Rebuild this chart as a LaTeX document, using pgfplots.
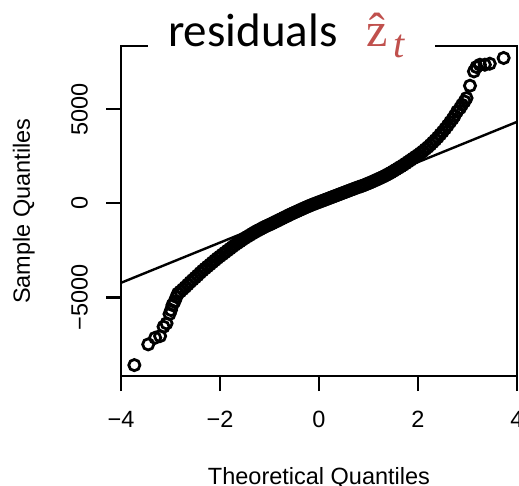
\documentclass[border=0pt]{standalone}
\usepackage{fontspec}
\setmainfont{Liberation Sans}
\newfontfamily\carlito{Carlito}
\newfontfamily\serif{Liberation Serif}
\usepackage{pgfplots}
\pgfplotsset{compat=1.18}
\definecolor{titlered}{HTML}{C0504D}

\pgfplotstableread{
x y
-3.73 -8601
-3.45 -7500
-3.31 -7149
-3.21 -7059
-3.14 -6564
-3.08 -6383
-3.02 -5888
-2.99 -5676
-2.96 -5410
-2.92 -5234
-2.88 -4980
-2.85 -4800
-2.80 -4690
-2.75 -4570
-2.70 -4450
-2.65 -4320
-2.60 -4190
-2.55 -4070
-2.50 -3950
-2.45 -3830
-2.40 -3700
-2.35 -3580
-2.30 -3470
-2.25 -3360
-2.20 -3250
-2.15 -3140
-2.10 -3030
-2.05 -2920
-2.00 -2820
-1.95 -2720
-1.90 -2620
-1.85 -2520
-1.80 -2420
-1.75 -2320
-1.70 -2220
-1.65 -2130
-1.60 -2040
-1.55 -1950
-1.50 -1860
-1.45 -1780
-1.40 -1700
-1.35 -1620
-1.30 -1540
-1.25 -1470
-1.20 -1400
-1.15 -1330
-1.10 -1260
-1.05 -1200
-1.00 -1140
-0.95 -1080
-0.90 -1010
-0.85 -950
-0.80 -880
-0.75 -820
-0.70 -750
-0.65 -690
-0.60 -620
-0.55 -560
-0.50 -500
-0.45 -440
-0.40 -380
-0.35 -320
-0.30 -260
-0.25 -200
-0.20 -150
-0.15 -90
-0.10 -40
-0.05 10
0.00 60
0.05 110
0.10 160
0.15 210
0.20 260
0.25 310
0.30 360
0.35 410
0.40 460
0.45 510
0.50 560
0.55 610
0.60 660
0.65 710
0.70 760
0.75 810
0.80 860
0.85 900
0.90 950
0.95 1000
1.00 1060
1.05 1110
1.10 1170
1.15 1230
1.20 1290
1.25 1350
1.30 1410
1.35 1480
1.40 1550
1.45 1620
1.50 1700
1.55 1780
1.60 1860
1.65 1940
1.70 2020
1.75 2110
1.80 2200
1.85 2290
1.90 2380
1.95 2470
2.00 2560
2.05 2660
2.10 2760
2.15 2870
2.20 2980
2.25 3100
2.30 3230
2.35 3360
2.40 3500
2.45 3650
2.50 3800
2.55 3960
2.60 4130
2.65 4310
2.70 4480
2.74 4644
2.79 4872
2.85 5053
2.89 5229
2.94 5404
2.98 5585
3.05 6240
3.13 7000
3.18 7234
3.25 7356
3.35 7356
3.45 7410
3.73 7713
}\residuals

\begin{document}
\begin{tikzpicture}
\begin{axis}[
  scale only axis,
  width=396pt, height=330pt,
  xmin=-4, xmax=4, ymin=-9180, ymax=8350,
  axis line style={line width=2.4pt},
  tick style={line width=2.4pt, black},
  major tick length=15pt,
  tick align=outside,
  xtick pos=left, ytick pos=left,
  xtick={-4,-2,0,2,4}, xticklabels={−4,−2,0,2,4},
  ytick={-5000,0,5000}, yticklabels={−5000,0,5000},
  tick label style={font=\fontsize{23.5}{28}\selectfont, inner sep=0pt},
  xticklabel style={anchor=north},
  xticklabel shift=20pt,
  yticklabel style={rotate=90, anchor=south},
  yticklabel shift=18pt,
]
\coordinate (BL) at (rel axis cs:0,0);
\addplot[black, line width=2.4pt, no marks] coordinates {(-4,-4230) (4,4320)};
\addplot[only marks, mark=o, mark size=5.6pt, mark options={line width=2.8pt, black}] table[x=x, y=y] {\residuals};
\end{axis}
% labels in R style
\node[rotate=90, anchor=base, inner sep=0pt, font=\fontsize{23.5}{28}\selectfont] at ([shift={(-91pt,165pt)}]BL) {Sample Quantiles};
\node[anchor=base, inner sep=0pt, font=\fontsize{23.5}{28}\selectfont] at ([shift={(198pt,-108pt)}]BL) {Theoretical Quantiles};
% title pasted over the top of the box
\fill[white] ([shift={(27pt,300pt)}]BL) rectangle ([shift={(314pt,348pt)}]BL);
\node[anchor=base west, inner sep=0pt, font=\carlito\fontsize{47}{56}\selectfont] at ([shift={(47pt,329pt)}]BL) {residuals};
\node[anchor=base west, inner sep=0pt, text=titlered, font=\serif\fontsize{48}{56}\selectfont] at ([shift={(245pt,329pt)}]BL) {\^{z}};
\node[anchor=base west, inner sep=0pt, text=titlered, font=\serif\itshape\fontsize{40}{48}\selectfont] at ([shift={(272pt,318pt)}]BL) {t};
\pgfresetboundingbox
\useasboundingbox ([shift={(-121pt,-109pt)}]BL) rectangle ([shift={(398pt,376pt)}]BL);
\end{tikzpicture}
\end{document}
